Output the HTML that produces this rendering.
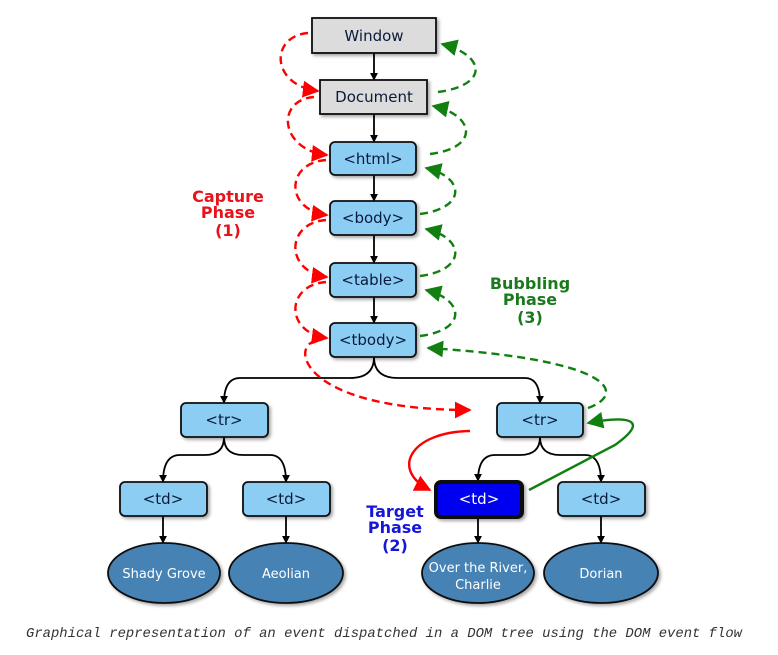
<!DOCTYPE html>
<html><head><meta charset="utf-8"><style>
html,body{margin:0;padding:0;background:#fff;}
svg{display:block;}
.bx{font-family:"DejaVu Sans","Liberation Sans",sans-serif;font-size:15px;fill:#0a1a3a;}
</style></head><body>
<svg width="778" height="655" viewBox="0 0 778 655" xmlns="http://www.w3.org/2000/svg">
<defs>
<marker id="ab" viewBox="0 0 10 10" refX="9" refY="5" markerWidth="8" markerHeight="8" markerUnits="userSpaceOnUse" orient="auto"><path d="M0,0L10,5L0,10z" fill="#000"/></marker>
<marker id="ar" viewBox="0 0 10 10" refX="9" refY="5" markerWidth="7" markerHeight="7" orient="auto"><path d="M0,0L10,5L0,10z" fill="#f00"/></marker>
<marker id="ag" viewBox="0 0 10 10" refX="9" refY="5" markerWidth="7" markerHeight="7" orient="auto"><path d="M0,0L10,5L0,10z" fill="#118011"/></marker>
<filter id="sh" x="-10%" y="-10%" width="130%" height="140%"><feDropShadow dx="2" dy="2" stdDeviation="1.5" flood-color="#000" flood-opacity="0.35"/></filter>
</defs>

<g stroke="#000" stroke-width="1.8" fill="none" marker-end="url(#ab)">
<line x1="374" y1="53" x2="374" y2="80"/>
<line x1="374" y1="114" x2="374" y2="142"/>
<line x1="374" y1="175" x2="374" y2="201"/>
<line x1="374" y1="235" x2="374" y2="263"/>
<line x1="374" y1="297" x2="374" y2="323"/>
<path d="M374,357 Q374,378 350,378 L240,378 Q224,378 224,403"/>
<path d="M374,357 Q374,378 398,378 L525,378 Q540,378 540,403"/>
<path d="M224,437 Q224,455 205,455 L180,455 Q163,455 163,482"/>
<path d="M224,437 Q224,455 243,455 L270,455 Q286,455 286,482"/>
<path d="M540,437 Q540,455 520,455 L495,455 Q478,455 478,481"/>
<path d="M540,437 Q540,455 560,455 L585,455 Q601,455 601,482"/>
<line x1="163" y1="516" x2="163" y2="543"/>
<line x1="286" y1="516" x2="286" y2="543"/>
<line x1="478" y1="517" x2="478" y2="543"/>
<line x1="601" y1="516" x2="601" y2="543"/>
</g>

<g filter="url(#sh)" stroke="#111" stroke-width="1.8">
<rect x="312" y="18" width="124" height="35" fill="#dcdcdc"/>
<rect x="320" y="80" width="107" height="34" fill="#dcdcdc"/>
<rect x="330" y="142" width="86" height="33" rx="5" fill="#8ccdf4"/>
<rect x="330" y="201" width="86" height="34" rx="5" fill="#8ccdf4"/>
<rect x="330" y="263" width="86" height="34" rx="5" fill="#8ccdf4"/>
<rect x="330" y="323" width="86" height="34" rx="5" fill="#8ccdf4"/>
<rect x="181" y="403" width="87" height="34" rx="5" fill="#8ccdf4"/>
<rect x="497" y="403" width="86" height="34" rx="5" fill="#8ccdf4"/>
<rect x="120" y="482" width="87" height="34" rx="5" fill="#8ccdf4"/>
<rect x="243" y="482" width="87" height="34" rx="5" fill="#8ccdf4"/>
<rect x="558" y="482" width="87" height="34" rx="5" fill="#8ccdf4"/>
<rect x="436" y="482" width="86" height="35" rx="5" fill="#0000f0" stroke-width="4"/>
<ellipse cx="164" cy="573" rx="56" ry="30" fill="#4682b4"/>
<ellipse cx="286" cy="573" rx="57" ry="30" fill="#4682b4"/>
<ellipse cx="478" cy="573" rx="56" ry="30" fill="#4682b4"/>
<ellipse cx="601" cy="573" rx="57" ry="30" fill="#4682b4"/>
</g>

<g class="bx" text-anchor="middle">
<text x="374" y="41">Window</text>
<text x="374" y="102">Document</text>
<text x="373" y="164">&lt;html&gt;</text>
<text x="373" y="223">&lt;body&gt;</text>
<text x="373" y="285">&lt;table&gt;</text>
<text x="373" y="345">&lt;tbody&gt;</text>
<text x="224" y="425">&lt;tr&gt;</text>
<text x="540" y="425">&lt;tr&gt;</text>
<text x="163" y="504">&lt;td&gt;</text>
<text x="286" y="504">&lt;td&gt;</text>
<text x="601" y="504">&lt;td&gt;</text>
<text x="479" y="504" fill="#fff">&lt;td&gt;</text>
<g fill="#fff" font-size="13">
<text x="164" y="578">Shady Grove</text>
<text x="286" y="578">Aeolian</text>
<text x="478" y="572">Over the River,</text>
<text x="478" y="589">Charlie</text>
<text x="601" y="578">Dorian</text>
</g>
</g>

<g stroke="#f00" stroke-width="2.4" fill="none" stroke-dasharray="8,5" marker-end="url(#ar)">
<path d="M308,33 C270,36 270,85 318,91"/>
<path d="M314,97 C275,100 280,150 327,155"/>
<path d="M326,160 C285,163 285,210 327,215"/>
<path d="M326,220 C285,223 285,272 327,277"/>
<path d="M326,282 C285,285 285,333 327,338"/>
<path d="M316,341 C290,345 300,410 470,410"/>
</g>
<g stroke="#118011" stroke-width="2.4" fill="none" stroke-dasharray="8,5" marker-end="url(#ag)">
<path d="M438,92 C490,85 485,55 442,44"/>
<path d="M430,154 C480,148 475,115 433,106"/>
<path d="M420,214 C467,208 465,177 426,168"/>
<path d="M420,276 C467,270 465,238 426,229"/>
<path d="M420,336 C467,330 465,300 426,290"/>
<path d="M588,408 C625,395 620,360 428,348"/>
</g>
<path d="M470,431 C410,432 390,470 430,490" stroke="#f00" stroke-width="2.4" fill="none" marker-end="url(#ar)"/>
<path d="M529,490 L615,445 C650,420 630,415 588,423" stroke="#118011" stroke-width="2.4" fill="none" marker-end="url(#ag)"/>

<g font-family="'DejaVu Sans','Liberation Sans',sans-serif" font-weight="bold" font-size="16" text-anchor="middle">
<text x="228" y="202" fill="#e8121b">Capture</text>
<text x="228" y="218" fill="#e8121b">Phase</text>
<text x="228" y="236" fill="#e8121b">(1)</text>
<text x="530" y="289" fill="#1b7a1b">Bubbling</text>
<text x="530" y="305" fill="#1b7a1b">Phase</text>
<text x="530" y="323" fill="#1b7a1b">(3)</text>
<text x="395" y="517" fill="#1616d8">Target</text>
<text x="395" y="533" fill="#1616d8">Phase</text>
<text x="395" y="551" fill="#1616d8">(2)</text>
</g>

<text x="26" y="637" font-family="'Liberation Mono',monospace" font-style="italic" font-size="14" fill="#333" textLength="716" lengthAdjust="spacingAndGlyphs">Graphical representation of an event dispatched in a DOM tree using the DOM event flow</text>
</svg>
</body></html>
